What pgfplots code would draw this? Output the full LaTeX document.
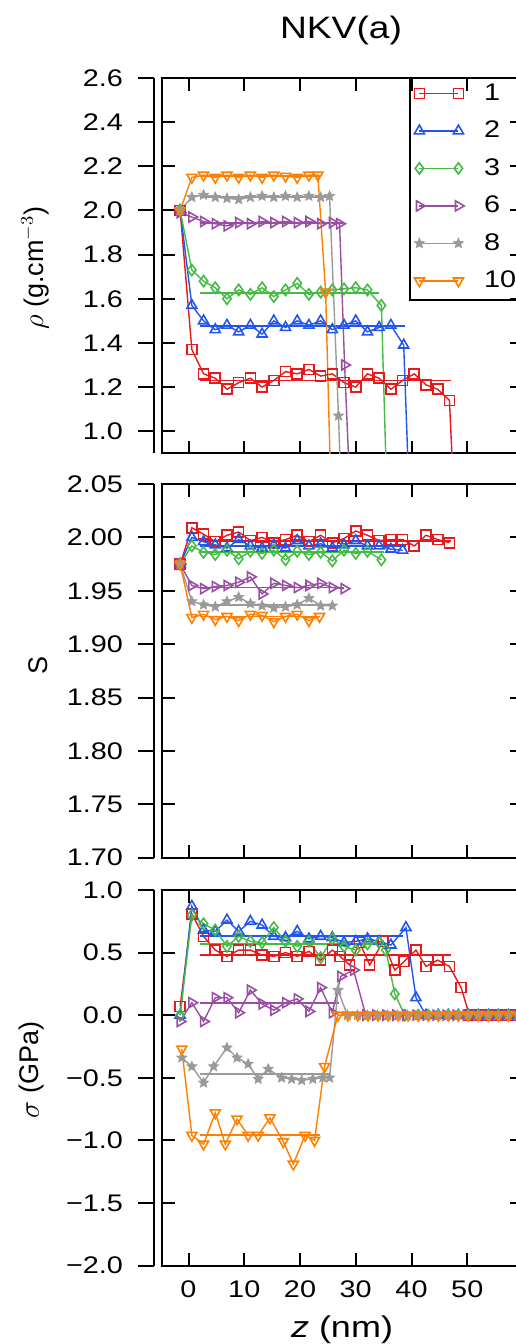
\documentclass[border=0pt]{standalone}
\usepackage{fontspec}
\setmainfont{Liberation Sans}[FakeStretch=1.2]
\newfontfamily\lblfont{Liberation Sans}
\usepackage{pgfplots}
\pgfplotsset{compat=1.18}
\definecolor{c1}{HTML}{E41A1C}
\definecolor{c2}{HTML}{2255EE}
\definecolor{c3}{HTML}{44BB44}
\definecolor{c6}{HTML}{984EA3}
\definecolor{c8}{HTML}{9A9A9A}
\definecolor{c10}{HTML}{FF7F00}

% filled five point star
\pgfdeclareplotmark{fstar}{%
  \pgfpathmoveto{\pgfpointpolar{90}{\pgfplotmarksize}}%
  \pgfpathlineto{\pgfpointpolar{126}{0.45\pgfplotmarksize}}%
  \pgfpathlineto{\pgfpointpolar{162}{\pgfplotmarksize}}%
  \pgfpathlineto{\pgfpointpolar{198}{0.45\pgfplotmarksize}}%
  \pgfpathlineto{\pgfpointpolar{234}{\pgfplotmarksize}}%
  \pgfpathlineto{\pgfpointpolar{270}{0.45\pgfplotmarksize}}%
  \pgfpathlineto{\pgfpointpolar{306}{\pgfplotmarksize}}%
  \pgfpathlineto{\pgfpointpolar{342}{0.45\pgfplotmarksize}}%
  \pgfpathlineto{\pgfpointpolar{18}{\pgfplotmarksize}}%
  \pgfpathlineto{\pgfpointpolar{54}{0.45\pgfplotmarksize}}%
  \pgfpathclose\pgfusepathqfillstroke}

\pgfplotsset{
  panel/.style={scale only axis,width=180.35pt,xmin=-4.7,xmax=60,
    xtick={0,10,20,30,40,50},xticklabels={},
    tick align=inside,major tick length=6.35pt,
    axis line style={line width=1pt},every tick/.style={black,line width=1pt},
    tick label style={font=\fontsize{12}{14}\selectfont},
    yticklabel style={inner sep=0pt,xshift=-19.5pt},
    xticklabel style={inner sep=0pt,yshift=-7.25pt}},
  s1/.style={c1,line width=0.7pt,mark=square,mark size=2.5pt,mark options={line width=0.8pt}},
  s2/.style={c2,line width=0.7pt,mark=triangle,mark size=2.9pt,mark options={line width=0.8pt}},
  s3/.style={c3,line width=0.7pt,mark=diamond,mark size=2.8pt,mark options={line width=0.8pt}},
  s6/.style={c6,line width=0.7pt,mark=triangle,mark size=2.9pt,mark options={line width=0.8pt,rotate=-90}},
  s8/.style={c8,line width=0.7pt,mark=fstar,mark size=2.6pt,mark options={line width=0.4pt}},
  s10/.style={c10,line width=0.7pt,mark=triangle,mark size=2.9pt,mark options={line width=0.8pt,rotate=180}},
  pl/.style={#1,line width=0.9pt,mark=none,forget plot},
}

\begin{document}
\begin{tikzpicture}
\node[font=\fontsize{15.5}{18}\selectfont] at (170.5pt,-15pt) {NKV(a)};
\node[rotate=90,font=\lblfont\fontsize{13.5}{16}\selectfont] at (17.5pt,-134pt) {$\rho$ (g.cm$^{-3}$)};
\node[rotate=90,font=\lblfont\fontsize{13.5}{16}\selectfont] at (19pt,-332.5pt) {S};
\node[rotate=90,font=\lblfont\fontsize{13.5}{16}\selectfont] at (16pt,-535pt) {$\sigma$ (GPa)};
\node[font=\fontsize{15}{18}\selectfont] at (171pt,-665pt) {\textit{z} (nm)};

% density
\begin{axis}[panel,at={(81.15pt,-226.65pt)},anchor=south west,height=187.65pt,
  ymin=0.9,ymax=2.6,ytick={1.0,1.2,1.4,1.6,1.8,2.0,2.2,2.4,2.6},
  yticklabels={1.0,1.2,1.4,1.6,1.8,2.0,2.2,2.4,2.6},
  legend style={at={(axis description cs:0.6867,1)},anchor=north west,draw=none,fill=none,
    inner xsep=2pt,inner ysep=0pt,row sep=3.75pt,font=\fontsize{12}{14}\selectfont,
    nodes={inner xsep=2pt,inner ysep=0pt,minimum height=15pt}},
  legend cell align=left,
  legend image code/.code={\draw[mark repeat=2,mark phase=1,#1,line width=0.9pt] plot coordinates {(0pt,0pt) (9.75pt,0pt) (19.5pt,0pt)};},
  after end axis/.code={\draw[line width=1pt] ([xshift=-4pt]rel axis cs:0,0) -- ([xshift=-4pt]rel axis cs:0,1);
    \foreach \v in {1.0,1.2,1.4,1.6,1.8,2.0,2.2,2.4,2.6} \draw[line width=1pt] ([xshift=-4pt]axis cs:-4.7,\v) -- ++(-8pt,0pt);
    \draw[line width=1pt] (rel axis cs:0.6867,1) -- (rel axis cs:0.6867,0.4085) -- (rel axis cs:1.2,0.4085);}]
\addplot[s1] coordinates {(-1.5,2.00) (0.6,1.37) (2.7,1.26) (4.8,1.24) (6.9,1.19) (9.0,1.22) (11.1,1.24) (13.2,1.20) (15.3,1.23) (17.4,1.27) (19.5,1.26) (21.6,1.28) (23.7,1.25) (25.8,1.26) (27.9,1.22) (30.0,1.20) (32.1,1.26) (34.2,1.24) (36.3,1.19) (38.4,1.23) (40.5,1.26) (42.6,1.21) (44.7,1.19) (46.8,1.14) (48.9,0.0)};
\addlegendentry{\hspace*{8pt}1\hspace*{12pt}}
\addplot[pl=c1] coordinates {(2.1,1.23) (47,1.23)};
\addplot[s2] coordinates {(-1.5,2.00) (0.6,1.57) (2.7,1.50) (4.8,1.46) (6.9,1.48) (9.0,1.45) (11.1,1.48) (13.2,1.44) (15.3,1.50) (17.4,1.47) (19.5,1.50) (21.6,1.48) (23.7,1.50) (25.8,1.46) (27.9,1.48) (30.0,1.50) (32.1,1.45) (34.2,1.47) (36.3,1.48) (38.6,1.39) (40.6,0.0)};
\addlegendentry{\hspace*{8pt}2}
\addplot[pl=c2] coordinates {(2.1,1.475) (38.8,1.475)};
\addplot[s3] coordinates {(-1.5,2.00) (0.6,1.73) (2.7,1.68) (4.8,1.65) (6.9,1.60) (9.0,1.64) (11.1,1.62) (13.2,1.65) (15.3,1.61) (17.4,1.64) (19.5,1.67) (21.6,1.62) (23.7,1.63) (25.8,1.64) (27.9,1.645) (30.0,1.65) (32.1,1.64) (34.6,1.57) (36.4,0.0)};
\addlegendentry{\hspace*{8pt}3}
\addplot[pl=c3] coordinates {(2.1,1.625) (34.2,1.625)};
\addplot[s6] coordinates {(-1.5,1.99) (0.6,1.97) (2.7,1.95) (4.8,1.94) (6.9,1.93) (9.0,1.945) (11.1,1.94) (13.2,1.95) (15.3,1.945) (17.4,1.95) (19.5,1.945) (21.6,1.95) (23.7,1.94) (25.8,1.945) (27.1,1.94) (28.0,1.30) (30.2,0.0)};
\addlegendentry{\hspace*{8pt}6}
\addplot[pl=c6] coordinates {(2.1,1.943) (27.7,1.943)};
\addplot[s8] coordinates {(-1.5,2.00) (0.6,2.06) (2.7,2.07) (4.8,2.06) (6.9,2.055) (9.0,2.05) (11.1,2.06) (13.2,2.065) (15.3,2.06) (17.4,2.065) (19.5,2.06) (21.6,2.065) (23.7,2.06) (25.3,2.065) (26.9,1.07) (28.4,0.0)};
\addlegendentry{\hspace*{8pt}8}
\addplot[pl=c8] coordinates {(2.1,2.062) (25.8,2.062)};
\addplot[s10] coordinates {(-1.5,2.00) (0.6,2.15) (2.7,2.16) (4.8,2.15) (6.9,2.16) (9.0,2.15) (11.1,2.16) (13.2,2.15) (15.3,2.16) (17.4,2.155) (19.5,2.15) (21.6,2.16) (23.2,2.16) (24.6,1.63) (26.3,0.0)};
\addlegendentry{\hspace*{8pt}10}
\addplot[pl=c10] coordinates {(2.1,2.157) (23.5,2.157)};
\end{axis}

% stoichiometry
\begin{axis}[panel,at={(81.15pt,-428.85pt)},anchor=south west,height=186.85pt,
  ymin=1.70,ymax=2.05,ytick={1.70,1.75,1.80,1.85,1.90,1.95,2.00,2.05},
  yticklabels={1.70,1.75,1.80,1.85,1.90,1.95,2.00,2.05},
  after end axis/.code={\draw[line width=1pt] ([xshift=-4pt]rel axis cs:0,0) -- ([xshift=-4pt]rel axis cs:0,1);
    \foreach \v in {1.70,1.75,1.80,1.85,1.90,1.95,2.00,2.05} \draw[line width=1pt] ([xshift=-4pt]axis cs:-4.7,\v) -- ++(-8pt,0pt);}]
\addplot[s1] coordinates {(-1.5,1.975) (0.6,2.009) (2.7,2.003) (4.8,1.996) (6.9,2.002) (9.0,2.005) (11.1,1.997) (13.2,2.000) (15.3,1.995) (17.4,1.998) (19.5,2.002) (21.6,1.996) (23.7,2.002) (25.8,1.995) (27.9,1.999) (30.0,2.006) (32.1,2.002) (34.2,1.997) (36.3,1.998) (38.4,1.998) (40.5,1.992) (42.6,2.002) (44.7,1.998) (46.8,1.995)};
\addplot[pl=c1] coordinates {(2.1,1.997) (47,1.997)};
\addplot[s2] coordinates {(-1.5,1.975) (0.6,2.000) (2.7,1.996) (4.8,1.993) (6.9,1.990) (9.0,1.998) (11.1,1.992) (13.2,1.990) (15.3,1.993) (17.4,1.990) (19.5,1.997) (21.6,1.992) (23.7,1.994) (25.8,1.990) (27.9,1.993) (30.0,1.997) (32.1,1.992) (34.2,1.992) (36.3,1.989) (38.4,1.988)};
\addplot[pl=c2] coordinates {(2.1,1.992) (39,1.992)};
\addplot[s3] coordinates {(-1.5,1.975) (0.6,1.992) (2.7,1.986) (4.8,1.984) (6.9,1.988) (9.0,1.980) (11.1,1.987) (13.2,1.985) (15.3,1.988) (17.4,1.979) (19.5,1.987) (21.6,1.984) (23.7,1.986) (25.8,1.978) (27.9,1.988) (30.0,1.985) (32.1,1.987) (34.6,1.979)};
\addplot[pl=c3] coordinates {(2.1,1.986) (35,1.986)};
\addplot[s6] coordinates {(-1.5,1.975) (0.6,1.955) (2.7,1.952) (4.8,1.954) (6.9,1.955) (9.0,1.958) (11.1,1.963) (13.2,1.947) (15.3,1.957) (17.4,1.955) (19.5,1.953) (21.6,1.955) (23.7,1.957) (25.8,1.953) (27.9,1.952)};
\addplot[pl=c6] coordinates {(2.1,1.953) (27.9,1.953)};
\addplot[s8] coordinates {(-1.5,1.975) (0.6,1.940) (2.7,1.937) (4.8,1.935) (6.9,1.940) (9.0,1.944) (11.1,1.938) (13.2,1.936) (15.3,1.934) (17.4,1.935) (19.5,1.937) (21.6,1.943) (23.7,1.936) (25.8,1.936)};
\addplot[pl=c8] coordinates {(2.1,1.937) (25.8,1.937)};
\addplot[s10] coordinates {(-1.5,1.975) (0.6,1.925) (2.7,1.928) (4.8,1.923) (6.9,1.926) (9.0,1.922) (11.1,1.928) (13.2,1.927) (15.3,1.921) (17.4,1.926) (19.5,1.928) (21.6,1.922) (23.5,1.926)};
\addplot[pl=c10] coordinates {(2.1,1.926) (23.5,1.926)};
\end{axis}

% stress
\begin{axis}[panel,at={(81.15pt,-632.75pt)},anchor=south west,height=187.75pt,
  ymin=-2.0,ymax=1.0,ytick={-2.0,-1.5,-1.0,-0.5,0.0,0.5,1.0},
  yticklabels={−2.0,−1.5,−1.0,−0.5,0.0,0.5,1.0},
  xticklabels={0,10,20,30,40,50},
  after end axis/.code={\draw[line width=1pt] ([xshift=-4pt]rel axis cs:0,0) -- ([xshift=-4pt]rel axis cs:0,1);
    \foreach \v in {-2.0,-1.5,-1.0,-0.5,0.0,0.5,1.0} \draw[line width=1pt] ([xshift=-4pt]axis cs:-4.7,\v) -- ++(-8pt,0pt);}]
\addplot[s1] coordinates {(-1.5,0.07) (0.6,0.81) (2.7,0.63) (4.8,0.52) (6.9,0.47) (9.0,0.52) (11.1,0.52) (13.2,0.48) (15.3,0.47) (17.4,0.50) (19.5,0.47) (21.6,0.51) (23.7,0.44) (25.8,0.52) (27.2,0.47) (28.9,0.40) (30.7,0.58) (32.5,0.40) (34.9,0.59) (37.0,0.36) (38.7,0.43) (40.8,0.52) (42.6,0.39) (44.7,0.44) (46.8,0.39) (48.9,0.22) (50.4,0) (52.0,0) (53.8,0) (55.6,0) (57.4,0) (59.2,0)};
\addplot[pl=c1] coordinates {(2.1,0.483) (47,0.483)};
\addplot[s2] coordinates {(-1.5,0.0) (0.6,0.87) (2.7,0.68) (4.8,0.67) (6.9,0.76) (9.0,0.67) (11.1,0.75) (13.2,0.72) (15.3,0.63) (17.4,0.62) (19.5,0.67) (21.6,0.61) (23.7,0.63) (25.8,0.62) (27.9,0.58) (30.0,0.59) (32.1,0.61) (34.2,0.59) (36.3,0.56) (39.0,0.70) (40.8,0.14) (42.6,0) (44.8,0) (46.6,0) (48.4,0) (50.2,0) (52.0,0) (53.8,0) (55.6,0) (57.4,0) (59.2,0)};
\addplot[pl=c2] coordinates {(2.1,0.63) (38.5,0.63)};
\addplot[s3] coordinates {(-1.5,0.0) (0.6,0.80) (2.7,0.73) (4.8,0.68) (6.9,0.55) (9.0,0.63) (11.1,0.59) (13.2,0.58) (15.3,0.70) (17.4,0.59) (19.5,0.55) (21.6,0.59) (23.7,0.46) (25.8,0.61) (27.9,0.55) (30.0,0.52) (32.1,0.57) (34.2,0.58) (35.4,0.52) (37.0,0.17) (38.8,0) (41.2,0) (43.0,0) (44.8,0) (46.6,0) (48.4,0) (50.2,0) (52.0,0) (53.8,0) (55.6,0) (57.4,0) (59.2,0)};
\addplot[pl=c3] coordinates {(2.1,0.57) (35,0.57)};
\addplot[s6] coordinates {(-1.5,-0.05) (0.6,0.10) (2.7,-0.05) (4.8,0.14) (6.9,0.14) (9.0,0.02) (11.1,0.20) (13.2,0.09) (15.3,0.04) (17.4,0.10) (19.5,0.13) (21.6,0.03) (23.7,0.22) (25.8,0.02) (27.3,0.31) (29.6,0.36) (31.8,0) (33.6,0) (35.4,0) (37.2,0) (39.0,0) (40.8,0) (42.6,0) (44.4,0) (46.2,0) (48.0,0) (49.8,0) (51.6,0) (53.4,0) (55.2,0) (57.0,0) (58.8,0)};
\addplot[pl=c6] coordinates {(2.1,0.10) (27,0.10)};
\addplot[s8] coordinates {(-1.2,-0.34) (0.6,-0.41) (2.7,-0.54) (4.5,-0.41) (6.9,-0.26) (8.7,-0.34) (10.7,-0.39) (12.5,-0.51) (14.3,-0.43) (16.7,-0.50) (18.5,-0.51) (20.3,-0.52) (22.3,-0.51) (24.1,-0.50) (25.3,-0.50) (26.8,0.20) (28.5,0) (30.3,0) (32.1,0) (33.9,0) (35.7,0) (37.5,0) (39.3,0) (41.1,0) (42.9,0) (44.7,0) (46.5,0) (48.3,0) (50.1,0) (51.9,0) (53.7,0) (55.5,0) (57.3,0) (59.1,0)};
\addplot[pl=c8] coordinates {(2.1,-0.47) (25.3,-0.47)};
\addplot[s10] coordinates {(-1.2,-0.27) (0.6,-0.96) (2.7,-1.03) (4.8,-0.78) (6.6,-1.03) (8.7,-0.83) (10.7,-0.96) (12.5,-0.96) (14.6,-0.82) (17.0,-1.01) (18.8,-1.19) (20.9,-0.96) (22.6,-1.00) (24.4,-0.41) (26.8,0) (28.6,0) (30.4,0) (32.2,0) (34.0,0) (35.8,0) (37.6,0) (39.4,0) (41.2,0) (43.0,0) (44.8,0) (46.6,0) (48.4,0) (50.2,0) (52.0,0) (53.8,0) (55.6,0) (57.4,0) (59.2,0)};
\addplot[pl=c10] coordinates {(2.1,-0.96) (23.5,-0.96)};
\end{axis}

\pgfresetboundingbox
\useasboundingbox (0pt,0pt) rectangle (257.5pt,-672pt);
\end{tikzpicture}
\end{document}
